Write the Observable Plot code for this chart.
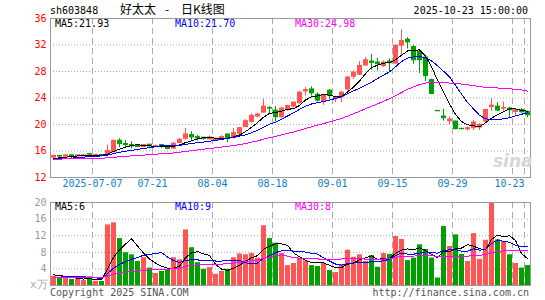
<!DOCTYPE html>
<html><head><meta charset="utf-8">
<script src="https://cdn.jsdelivr.net/npm/d3@7"></script>
<script src="https://cdn.jsdelivr.net/npm/@observablehq/plot@0.6"></script>
<style>
html,body{margin:0;padding:0;background:#fff;}
#wrap{position:relative;width:545px;height:300px;overflow:hidden;background:#fff;}
#wrap svg{position:absolute;left:0;}
.t{position:absolute;white-space:pre;font-family:"DejaVu Sans Mono",monospace;font-size:10px;line-height:10px;}
.cjk{position:absolute;white-space:pre;font-family:"Noto Sans CJK SC",sans-serif;font-size:12px;line-height:12px;}
</style></head><body><div id="wrap"></div>
<script>
// ---- data ----
const dates = ["2025-07-07","07-21","08-04","08-18","09-01","09-15","09-29","10-23"];
const dateIdx = [7,17,27,37,47,57,67,79];
const opens = [15.00,15.25,15.15,15.35,15.20,15.20,15.55,15.30,15.40,15.50,
  15.80,17.55,17.05,16.90,16.85,16.60,16.95,16.70,16.90,16.70,
  16.35,17.20,17.85,18.40,18.10,18.00,17.75,17.65,17.80,18.50,
  17.95,18.60,19.60,20.40,21.20,21.80,22.50,22.10,21.10,22.20,
  22.70,23.20,25.00,25.30,24.50,23.50,25.10,23.85,24.10,25.30,
  27.20,27.50,28.90,29.50,29.35,28.80,29.50,29.20,31.90,32.80,
  31.70,31.00,30.10,26.70,22.05,21.20,20.50,20.45,19.35,19.25,
  19.45,19.55,20.45,22.65,22.70,22.40,22.40,21.90,22.20,21.90];
const highs = [15.40,15.35,15.40,15.40,15.40,15.45,15.65,15.50,15.45,16.90,
  17.60,17.85,17.60,17.40,17.00,17.00,17.00,16.90,17.00,16.85,
  17.30,17.85,19.40,18.90,18.35,18.10,18.25,17.95,18.30,18.55,
  19.40,19.50,20.70,21.60,21.70,23.80,22.70,22.70,22.60,22.90,
  23.40,25.00,25.60,25.70,24.80,24.50,25.30,24.25,24.95,27.20,
  28.10,29.50,30.10,30.60,30.00,29.60,29.90,32.00,34.30,33.10,
  32.00,31.20,30.30,26.85,22.05,22.30,21.15,20.50,19.45,19.60,
  20.60,20.10,22.25,23.90,23.30,23.40,22.60,22.35,22.40,22.00];
const lows = [14.90,14.95,15.10,14.80,15.15,15.15,15.35,15.25,15.10,15.40,
  15.75,16.50,16.50,16.30,16.50,16.50,16.60,16.60,16.40,16.20,
  16.30,17.10,17.60,17.60,17.50,17.65,17.70,17.45,17.70,17.25,
  17.90,18.50,19.55,20.20,21.00,21.70,21.60,20.40,20.90,22.00,
  22.50,23.10,24.30,24.30,23.40,22.90,23.70,23.30,23.30,25.10,
  26.80,27.40,28.80,28.20,28.10,28.60,27.90,29.10,30.40,31.40,
  29.10,27.70,26.50,24.50,22.00,20.50,20.00,19.20,19.20,19.05,
  19.10,19.10,20.40,22.00,22.00,22.05,21.00,21.40,21.70,21.00];
const closes = [15.25,15.15,15.35,15.20,15.35,15.35,15.45,15.40,15.30,16.00,
  17.55,17.05,16.90,16.70,16.60,16.90,16.70,16.75,16.70,16.30,
  17.10,17.70,18.50,18.05,17.90,17.80,18.05,17.85,18.10,17.90,
  18.70,19.45,20.50,21.30,21.50,22.70,22.40,21.10,22.40,22.80,
  23.30,24.80,25.20,24.70,23.60,24.30,24.30,24.10,24.80,27.10,
  27.85,28.85,29.70,29.30,29.10,29.35,29.25,31.90,32.60,32.40,
  29.70,29.70,27.30,24.60,22.00,20.95,20.75,19.30,19.30,19.45,
  20.30,19.95,22.20,22.85,22.10,22.50,22.15,22.15,21.85,21.40];
const volumes = [2.24,1.76,1.8,1.44,1.6,1.2,2.1,1.0,0.96,14.6,
  15.1,11.3,7.9,7.4,5.8,6.7,4.2,2.9,3.4,3.8,
  6.7,6.2,13.4,9.1,5.5,3.9,4.3,2.7,3.4,3.9,
  6.7,7.6,7.4,7.7,6.6,14.4,11.3,10.2,7.7,4.8,
  5.3,6.6,5.9,4.8,4.6,5.4,3.6,3.1,5.0,8.5,
  6.8,7.4,5.8,7.2,4.4,7.7,7.5,11.8,11.1,6.0,
  6.6,9.8,8.7,6.6,1.8,14.2,9.4,12.2,7.5,5.8,
  12.5,6.3,10.9,20.0,11.0,10.6,7.4,5.3,4.2,4.8];
// estimated sessions before the visible window (from the starting levels of the MA lines)
const priorCloses = [14.9,14.8,14.7,14.8,14.9,14.8,14.7,14.7,14.8,14.9,
  14.8,14.7,14.8,14.8,14.9,14.8,14.7,14.7,14.8,14.8,
  14.6,14.6,14.7,14.6,14.6,14.7,14.8,14.8,14.8];
const priorVolumes = [2.1,1.9,2.0,2.2,1.8,2.0,2.1,1.9,2.0,2.0,
  2.2,1.8,2.0,2.1,1.9,2.0,2.0,2.1,1.9,2.0,
  1.4,1.5,1.4,1.5,1.4,2.6,2.7,2.6,2.7];
const priceTicks = [12,16,20,24,28,32,36];
const volTicks = [4,8,12,16,20];
const header = {code:"sh603848", name:"好太太", sep:"-", kind:"日K线图", time:"2025-10-23 15:00:00",
  ma5:"MA5:21.93", ma10:"MA10:21.70", ma30:"MA30:24.98", vma5:"MA5:6", vma10:"MA10:9", vma30:"MA30:8"};

// ---- build ----
const RED = "#ff5555", GREEN = "#00a000", GRID = "#aaaaaa", FRAME = "#999999", BLUE_TXT = "#0e80c8";
const MONO = "DejaVu Sans Mono";
function movingAvg(prior, values, n){
  const all = prior.concat(values), off = prior.length;
  return values.map((_, i) => d3.mean(all.slice(Math.max(0, off + i + 1 - n), off + i + 1)));
}
const pm5 = movingAvg(priorCloses, closes, 5), pm10 = movingAvg(priorCloses, closes, 10), pm30 = movingAvg(priorCloses, closes, 30);
const vm5 = movingAvg(priorVolumes, volumes, 5), vm10 = movingAvg(priorVolumes, volumes, 10), vm30 = movingAvg(priorVolumes, volumes, 30);
const rows = closes.map((c, i) => ({
  i, open: opens[i], high: highs[i], low: lows[i], close: c, vol: volumes[i],
  top: Math.max(opens[i], c), bot: Math.min(opens[i], c),
  color: c >= opens[i] ? RED : GREEN,
  pm5: pm5[i], pm10: pm10[i], pm30: pm30[i], vm5: vm5[i], vm10: vm10[i], vm30: vm30[i]
}));
const gridIdx = d3.range(7, 80, 10).concat([79]);
const X = d => d.i + 0.5;

const price = Plot.plot({
  width: 545, height: 195, marginLeft: 50, marginRight: 15, marginTop: 18, marginBottom: 18,
  x: {domain: [0, 80], axis: null},
  y: {domain: [12, 36], axis: null},
  style: {background: "transparent", overflow: "visible"},
  marks: [
    Plot.ruleY([16,20,24,28,32], {stroke: GRID, strokeDasharray: "1,2"}),
    Plot.ruleX(gridIdx, {x: d => d, stroke: GRID, strokeDasharray: "6,4"}),
    Plot.frame({stroke: FRAME}),
    Plot.ruleX(rows, {x: X, y1: "low", y2: "high", stroke: "color"}),
    Plot.ruleX(rows, {x: X, y1: "top", y2: "bot", stroke: "color", strokeWidth: 5, insetTop: -0.5, insetBottom: -0.5}),
    Plot.line(rows, {x: X, y: "pm5", stroke: "black", strokeWidth: 1, shapeRendering: "crispEdges"}),
    Plot.line(rows, {x: X, y: "pm10", stroke: "blue", strokeWidth: 1, shapeRendering: "crispEdges"}),
    Plot.line(rows, {x: X, y: "pm30", stroke: "#ff00ff", strokeWidth: 1, shapeRendering: "crispEdges"}),
    Plot.text(priceTicks, {y: d => d, text: d => String(d), frameAnchor: "left", dx: -4, textAnchor: "end", fill: "red", fontFamily: MONO, fontSize: 10}),
    Plot.text(dateIdx.slice(0, -1), {x: d => d, text: (d, k) => dates[k], frameAnchor: "bottom", dy: 9, fill: BLUE_TXT, fontFamily: MONO, fontSize: 10}),
    Plot.text(dateIdx.slice(-1), {x: d => d, text: () => dates[dates.length - 1], frameAnchor: "bottom", dy: 9, textAnchor: "end", fill: BLUE_TXT, fontFamily: MONO, fontSize: 10})
  ]
});
price.style.top = "0px";

const vol = Plot.plot({
  width: 545, height: 105, marginLeft: 50, marginRight: 15, marginTop: 7, marginBottom: 15,
  x: {domain: [0, 80], axis: null},
  y: {domain: [0, 20], axis: null},
  style: {background: "transparent", overflow: "visible"},
  marks: [
    Plot.ruleY([4,8,12,16], {stroke: GRID, strokeDasharray: "1,2"}),
    Plot.ruleX(gridIdx, {x: d => d, stroke: GRID, strokeDasharray: "6,4"}),
    Plot.ruleX(rows, {x: X, y1: d => 0, y2: "vol", stroke: "color", strokeWidth: 5}),
    Plot.line(rows, {x: X, y: "vm5", stroke: "black", strokeWidth: 1, shapeRendering: "crispEdges"}),
    Plot.line(rows, {x: X, y: "vm10", stroke: "blue", strokeWidth: 1, shapeRendering: "crispEdges"}),
    Plot.line(rows, {x: X, y: "vm30", stroke: "#ff00ff", strokeWidth: 1, shapeRendering: "crispEdges"}),
    Plot.frame({stroke: FRAME}),
    Plot.text(volTicks, {y: d => d, text: d => String(d), frameAnchor: "left", dx: -4, textAnchor: "end", fill: "#999", fontFamily: MONO, fontSize: 10})
  ]
});
vol.style.top = "195px";

const wrap = document.getElementById("wrap");
wrap.append(price, vol);
function label(cls, text, css){
  const d = document.createElement("div");
  d.className = cls; d.textContent = text; Object.assign(d.style, css); wrap.append(d);
}
label("t", header.code, {left: "50px", top: "6px"});
label("cjk", header.name, {left: "120px", top: "3px"});
label("cjk", header.sep, {left: "165px", top: "3px"});
label("cjk", header.kind, {left: "181px", top: "3px"});
label("t", header.time, {right: "17px", top: "6px"});
label("t", header.ma5, {left: "55px", top: "19px", color: "black"});
label("t", header.ma10, {left: "175px", top: "19px", color: "blue"});
label("t", header.ma30, {left: "295px", top: "19px", color: "#ff00ff"});
label("t", header.vma5, {left: "55px", top: "202px", color: "black"});
label("t", header.vma10, {left: "175px", top: "202px", color: "blue"});
label("t", header.vma30, {left: "295px", top: "202px", color: "#ff00ff"});
label("t", "x万", {left: "30px", top: "279px", color: "#aaa", fontSize: "11px", lineHeight: "11px"});
label("t", "Copyright 2025 SINA.COM", {left: "50px", top: "288px", color: "#555"});
label("t", "http://finance.sina.com.cn", {right: "16px", top: "288px", color: "#555"});
label("t", "sina", {left: "493px", top: "153px", color: "#d6d6d6", fontFamily: "DejaVu Sans", fontSize: "17px", lineHeight: "17px", fontStyle: "italic", fontWeight: "bold"});
</script></body></html>
